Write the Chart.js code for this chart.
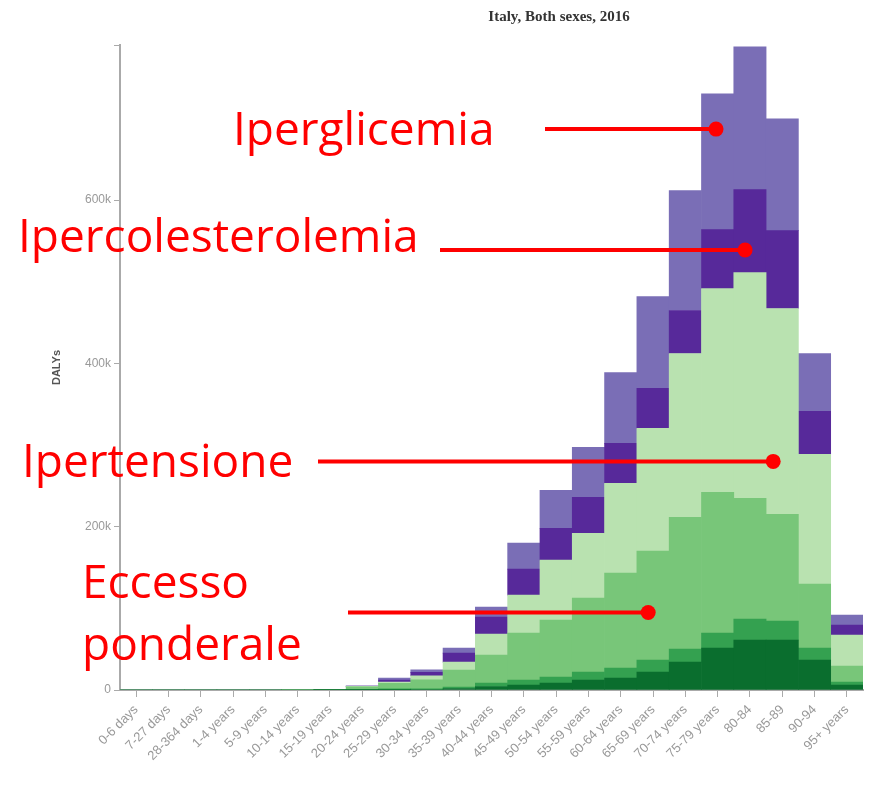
<!DOCTYPE html>
<html>
<head>
<meta charset="utf-8">
<script src="https://cdn.jsdelivr.net/npm/chart.js@4.4.1/dist/chart.umd.min.js"></script>
<style>
  html, body { margin: 0; padding: 0; background: #fff; }
  #wrap { width: 870px; height: 792px; position: relative; }
</style>
</head>
<body>
<div id="wrap"><canvas id="dalys"></canvas></div>
<script>
// Age groups (x axis)
const ageGroups = [
  "0-6 days", "7-27 days", "28-364 days", "1-4 years", "5-9 years",
  "10-14 years", "15-19 years", "20-24 years", "25-29 years", "30-34 years",
  "35-39 years", "40-44 years", "45-49 years", "50-54 years", "55-59 years",
  "60-64 years", "65-69 years", "70-74 years", "75-79 years", "80-84",
  "85-89", "90-94", "95+ years"
];

// DALYs per age group, stacked from the bottom up
const verdeScuro = [0, 0, 0, 0, 0, 0, 100, 300, 500, 600, 1800, 4300, 6100, 8600, 12200, 14700, 22000, 34200, 51400, 61200, 61200, 36700, 6100];
const verdeMedio = [0, 0, 0, 0, 0, 0, 100, 500, 800, 800, 1800, 4300, 6100, 7300, 9800, 12200, 14700, 15900, 18300, 25700, 23200, 14700, 3700];
const eccessoPonderale = [0, 0, 0, 0, 0, 100, 400, 3000, 7000, 11000, 20800, 34200, 57500, 69700, 90500, 116200, 133300, 161500, 172500, 148000, 130900, 78300, 19600];
const ipertensione = [0, 0, 0, 0, 0, 50, 200, 600, 1500, 4900, 9800, 25700, 46500, 73400, 79500, 110100, 150500, 200600, 249500, 276400, 252000, 159000, 37900];
const ipercolesterolemia = [0, 0, 0, 0, 0, 0, 100, 300, 2500, 4300, 11000, 20800, 31800, 39100, 44000, 48900, 48900, 52600, 72200, 101500, 95400, 52600, 12200];
const iperglicemia = [0, 0, 0, 0, 0, 0, 50, 200, 2400, 3000, 6100, 12200, 31800, 46500, 61200, 86800, 112500, 146800, 166400, 174900, 137000, 70900, 12200];

const yTicks = [0, 200000, 400000, 600000];
const yMax = 790000;

// Red call-outs: text lines, line start, and the bar point they point to
const callouts = [
  { text: ["Iperglicemia"], tx: 233, ty: [145], x0: 545, cat: 17.95, val: 687000 },
  { text: ["Ipercolesterolemia"], tx: 18, ty: [252], x0: 440, cat: 18.85, val: 539000 },
  { text: ["Ipertensione"], tx: 22, ty: [477], x0: 318, cat: 19.72, val: 280000 },
  { text: ["Eccesso", "ponderale"], tx: 82, ty: [598, 660], x0: 348, cat: 15.85, val: 95000 }
];

const calloutPlugin = {
  id: "callouts",
  afterDraw(chart) {
    const ctx = chart.ctx;
    const xs = chart.scales.x, ys = chart.scales.y;
    ctx.save();
    // title
    ctx.fillStyle = "#333";
    ctx.font = "bold 15px 'Liberation Serif', serif";
    ctx.textAlign = "center";
    ctx.textBaseline = "middle";
    ctx.fillText("Italy, Both sexes, 2016", 559, 17);

    ctx.textAlign = "left";
    ctx.textBaseline = "alphabetic";
    ctx.font = "46px 'Open Sans', sans-serif";
    ctx.fillStyle = "#ff0000";
    ctx.strokeStyle = "#ff0000";
    ctx.lineWidth = 4;
    callouts.forEach(c => {
      c.text.forEach((t, i) => ctx.fillText(t, c.tx, c.ty[i]));
      const px = xs.getPixelForValue(c.cat);
      const py = ys.getPixelForValue(c.val);
      ctx.beginPath();
      ctx.moveTo(c.x0, py);
      ctx.lineTo(px, py);
      ctx.stroke();
      ctx.beginPath();
      ctx.arc(px, py, 7.5, 0, Math.PI * 2);
      ctx.fill();
    });
    ctx.restore();
  }
};

function series(label, data, color) {
  return { label: label, data: data, backgroundColor: color, borderWidth: 0,
           categoryPercentage: 1.0, barPercentage: 1.0 };
}

new Chart(document.getElementById("dalys"), {
  type: "bar",
  data: {
    labels: ageGroups,
    datasets: [
      series("Verde scuro", verdeScuro, "#0a6e2e"),
      series("Verde medio", verdeMedio, "#34a150"),
      series("Eccesso ponderale", eccessoPonderale, "#78c679"),
      series("Ipertensione", ipertensione, "#b9e2b0"),
      series("Ipercolesterolemia", ipercolesterolemia, "#57299a"),
      series("Iperglicemia", iperglicemia, "#7a6eb6")
    ]
  },
  options: {
    responsive: true,
    maintainAspectRatio: false,
    animation: false,
    layout: { padding: { top: 45, left: 10, right: 7, bottom: 0 } },
    plugins: {
      legend: { display: false },
      tooltip: { enabled: false }
    },
    scales: {
      x: {
        stacked: true,
        afterFit(s) { s.height = 102; },
        border: { color: "#aaa", width: 2 },
        grid: { offset: false, drawOnChartArea: false, tickLength: 7, color: "#aaa" },
        ticks: {
          autoSkip: false, maxRotation: 45, minRotation: 45, padding: 5,
          color: "#999", font: { family: "'Liberation Sans', sans-serif", size: 13 }
        }
      },
      y: {
        stacked: true,
        min: 0,
        max: yMax,
        afterFit(s) { s.width = 110; },
        afterBuildTicks(s) {
          s.ticks = yTicks.map(v => ({ value: v })).concat([{ value: yMax }]);
        },
        border: { color: "#aaa", width: 2 },
        grid: { drawOnChartArea: false, tickLength: 6, color: "#aaa" },
        ticks: {
          padding: 3, color: "#999",
          font: { family: "'Liberation Sans', sans-serif", size: 12 },
          callback: v => (yTicks.includes(v) ? (v === 0 ? "0" : v / 1000 + "k") : "")
        },
        title: {
          display: true, text: "DALYs", color: "#555",
          font: { family: "'Liberation Sans', sans-serif", size: 11, weight: "bold" },
          padding: { top: 40, bottom: 0 }
        }
      }
    }
  },
  plugins: [calloutPlugin]
});
</script>
</body>
</html>
